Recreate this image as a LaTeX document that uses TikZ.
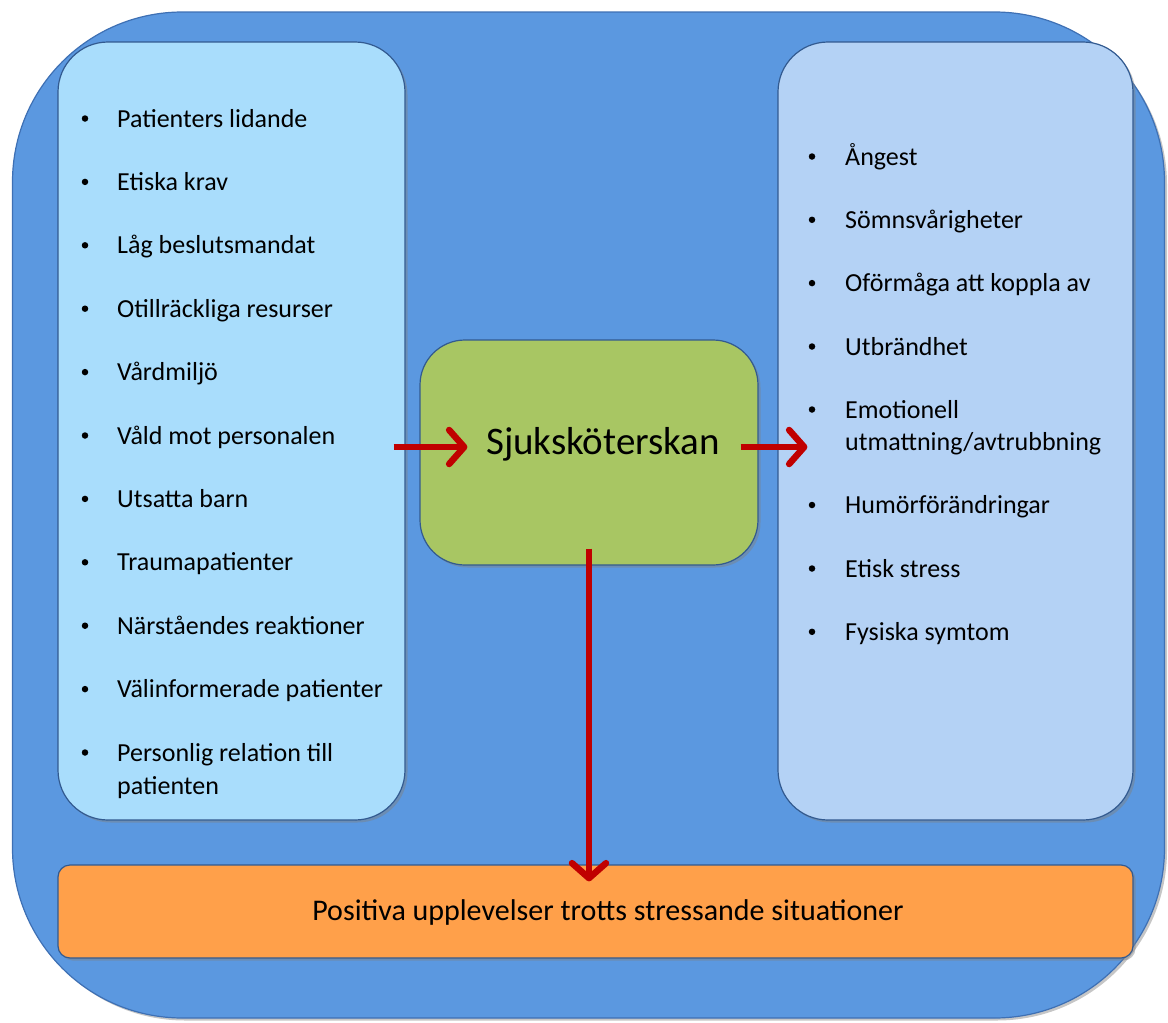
\documentclass[tikz,border=0pt]{standalone}
\usepackage{fontspec}
\setmainfont{Carlito}
\usetikzlibrary{arrows.meta,shadows}
\definecolor{outerblue}{RGB}{91,152,224}
\definecolor{outeredge}{RGB}{62,112,180}
\definecolor{leftfill}{RGB}{169,221,252}
\definecolor{rightfill}{RGB}{180,210,245}
\definecolor{greenfill}{RGB}{168,198,99}
\definecolor{orangefill}{RGB}{255,160,74}
\definecolor{arrowred}{RGB}{192,0,0}
\tikzset{
  panel/.style={draw=#1, line width=1.2pt, inner sep=0pt,
    drop shadow={opacity=0.45, shadow xshift=2.5pt, shadow yshift=-2.5pt}},
  itemtext/.style={anchor=base west, inner sep=0pt, font=\fontsize{26}{31}\selectfont},
  bulletmark/.style={circle, fill=black, inner sep=0pt, minimum size=6.5pt},
  redarrow/.style={draw=arrowred, line width=6.5pt,
    -{Straight Barb[length=15pt, width=34pt, round]}}
}
\begin{document}
\begin{tikzpicture}[x=1pt,y=-1pt]
\useasboundingbox (0,0) rectangle (1168,1023);
% outer frame
\node[panel=outeredge, fill=outerblue, rounded corners=170pt,
  minimum width=1152pt, minimum height=1006pt] (O) at (588.5,515) {};
% left and right boxes
\node[panel=outeredge!80!black, fill=leftfill, rounded corners=50pt,
  minimum width=347pt, minimum height=778pt] (L) at (231.5,431) {};
\node[panel=outeredge!80!black, fill=rightfill, rounded corners=50pt,
  minimum width=355pt, minimum height=778pt] (R) at (955.5,431) {};
% centre box
\node[panel=outeredge!80!black, fill=greenfill, rounded corners=45pt,
  minimum width=338pt, minimum height=225pt] (G) at (589,452.5) {};
\node[anchor=base, inner sep=0pt, font=\fontsize{39}{47}\selectfont] (GT) at (603,454) {Sjuksköterskan};
% bottom box
\node[panel=outeredge!80!black, fill=orangefill, rounded corners=12pt,
  minimum width=1075pt, minimum height=93pt] (B) at (595.5,911.5) {};
\node[anchor=base, inner sep=0pt, font=\fontsize{30}{36}\selectfont] (BT) at (608,920) {Positiva upplevelser trotts stressande situationer};
% left list
\foreach \t [count=\i] in {Patienters lidande, Etiska krav, Låg beslutsmandat,
  Otillräckliga resurser, Vårdmiljö, Våld mot personalen, Utsatta barn,
  Traumapatienter, Närståendes reaktioner, Välinformerade patienter,
  Personlig relation till} {
  \pgfmathsetmacro{\yy}{127+63.4*(\i-1)}
  \node[bulletmark] (lb\i) at (85,\yy-8.5) {};
  \node[itemtext] (lt\i) at (117,\yy) {\t};
}
\node[itemtext] (lt11b) at (117,794) {patienten};
% right list
\foreach \t/\yy [count=\i] in {Ångest/165, Sömnsvårigheter/228.3,
  Oförmåga att koppla av/291.6, Utbrändhet/355, Emotionell/418,
  Humörförändringar/513.5, Etisk stress/577, Fysiska symtom/640.3} {
  \node[bulletmark] (rb\i) at (812,\yy-8.5) {};
  \node[itemtext] (rt\i) at (845,\yy) {\t};
}
\node[itemtext] (rt5b) at (845,450) {utmattning/avtrubbning};
% arrows
\draw[redarrow] ([xshift=-12pt]L.east |- 0,447) -- ([xshift=48pt]G.west |- 0,447);
\draw[redarrow] ([xshift=-18pt]G.east |- 0,447) -- ([xshift=30pt]R.west |- 0,447);
\draw[redarrow] ([yshift=17pt]G.south) -- ([yshift=-17pt]G.south |- B.north);
\end{tikzpicture}
\end{document}
